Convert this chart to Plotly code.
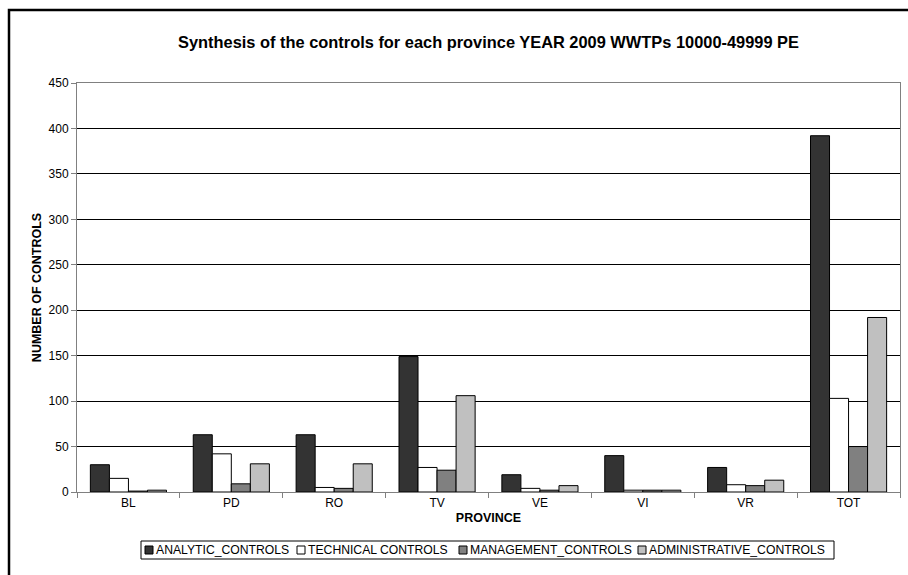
import plotly.graph_objects as go

provinces = ["BL", "PD", "RO", "TV", "VE", "VI", "VR", "TOT"]
analytic_controls = [30, 63, 63, 149, 19, 40, 27, 392]
technical_controls = [15, 42, 5, 27, 4, 2, 8, 103]
management_controls = [1, 9, 4, 24, 2, 2, 7, 50]
administrative_controls = [2, 31, 31, 106, 7, 2, 13, 192]
y_ticks = [0, 50, 100, 150, 200, 250, 300, 350, 400, 450]

FONT = "Arial, 'Liberation Sans', sans-serif"

series = [
    ("ANALYTIC_CONTROLS", analytic_controls, "#333333"),
    ("TECHNICAL CONTROLS", technical_controls, "#ffffff"),
    ("MANAGEMENT_CONTROLS", management_controls, "#808080"),
    ("ADMINISTRATIVE_CONTROLS", administrative_controls, "#c0c0c0"),
]

# plot area in pixels
W, H = 908, 575
L, R, T, B = 77, 8, 83, 83
PW, PH = W - L - R, H - T - B


def px_x(x):
    return (x - L) / PW


def px_y(y):
    return (H - B - y) / PH


fig = go.Figure()
for name, vals, color in series:
    fig.add_trace(go.Bar(
        x=provinces, y=vals, name=name,
        marker=dict(color=color, line=dict(color="#000000", width=1)),
    ))

fig.update_layout(
    width=W, height=H,
    margin=dict(l=L, r=R, t=T, b=B),
    paper_bgcolor="white", plot_bgcolor="white",
    font=dict(family=FONT, size=12, color="#000000"),
    barmode="group", bargap=0.26, bargroupgap=0,
    showlegend=False,
    title=dict(
        text="<b>Synthesis of the controls for each province YEAR 2009 WWTPs 10000-49999 PE</b>",
        xref="paper", x=0.5, xanchor="center", y=1 - 42 / H, yanchor="middle",
        font=dict(size=16.4, family=FONT),
    ),
    xaxis=dict(
        type="category", tickson="boundaries", ticks="outside", ticklen=5,
        tickcolor="#808080", showline=True, linecolor="#808080", mirror=True,
        showgrid=False, tickfont=dict(size=12),
        title=dict(text="<b>PROVINCE</b>", font=dict(size=12.5), standoff=3),
    ),
    yaxis=dict(
        range=[0, 450], tickvals=y_ticks, ticks="outside", ticklen=5,
        tickcolor="#808080", showline=True, linecolor="#808080", mirror=True,
        showgrid=True, gridcolor="#000000", gridwidth=1, zeroline=False,
        tickfont=dict(size=12),
        title=dict(text="<b>NUMBER OF CONTROLS</b>", font=dict(size=12.5), standoff=4),
    ),
)

# outer chart frame
fig.add_shape(
    type="rect", xref="paper", yref="paper",
    x0=px_x(9), x1=px_x(920), y0=px_y(590), y1=px_y(10),
    line=dict(color="#000000", width=2.5), fillcolor="rgba(0,0,0,0)",
    layer="above",
)

# legend box with one swatch and label per series
leg_top, leg_bot = 541, 559
leg_mid = (leg_top + leg_bot) / 2
fig.add_shape(
    type="rect", xref="paper", yref="paper",
    x0=px_x(141), x1=px_x(834), y0=px_y(leg_bot), y1=px_y(leg_top),
    line=dict(color="#000000", width=1), fillcolor="white",
)
swatch_x = [145, 297, 459, 638]
for (name, _, color), sx in zip(series, swatch_x):
    fig.add_shape(
        type="rect", xref="paper", yref="paper",
        x0=px_x(sx), x1=px_x(sx + 8), y0=px_y(leg_mid + 4), y1=px_y(leg_mid - 4),
        line=dict(color="#000000", width=1), fillcolor=color,
    )
    fig.add_annotation(
        xref="paper", yref="paper", x=px_x(sx + 9), y=px_y(leg_mid),
        xanchor="left", yanchor="middle", text=name, showarrow=False,
        font=dict(size=12.2, family=FONT, color="#000000"),
    )

fig.write_html("out.html")
